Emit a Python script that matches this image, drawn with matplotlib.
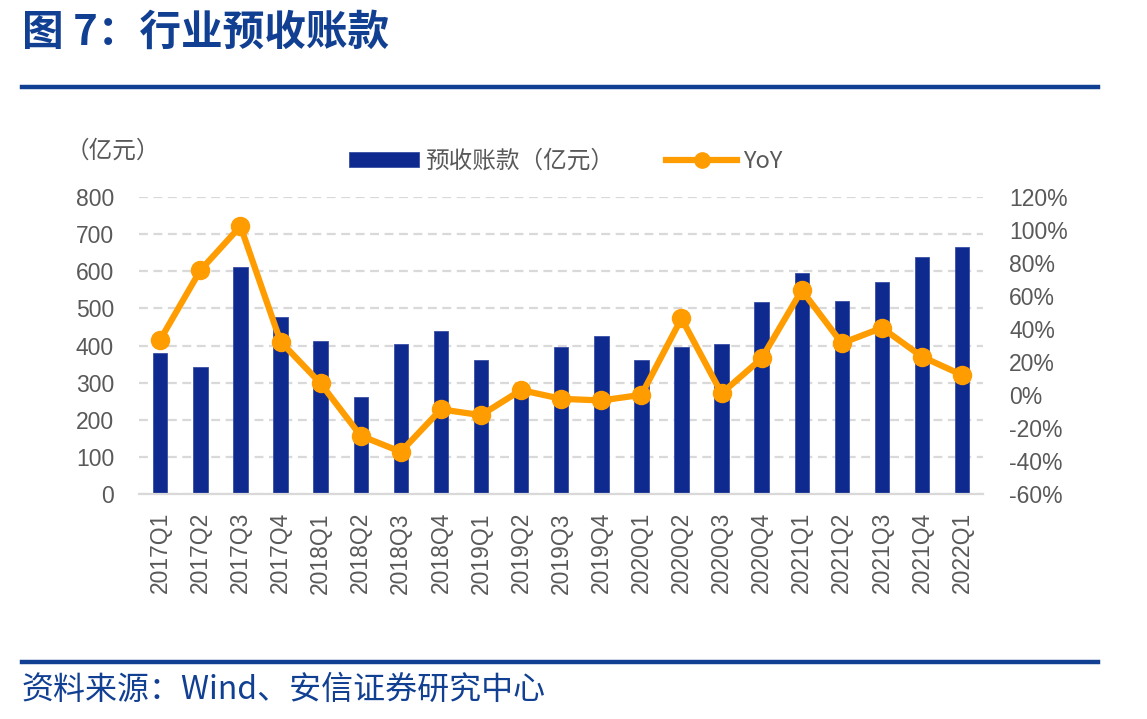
import numpy as np
import matplotlib
matplotlib.use("Agg")
import matplotlib.pyplot as plt
from matplotlib.lines import Line2D
from matplotlib.ticker import FuncFormatter

plt.rcParams['font.family'] = ['Liberation Sans', 'Noto Sans CJK SC', 'DejaVu Sans']

quarters = ['2017Q1', '2017Q2', '2017Q3', '2017Q4', '2018Q1', '2018Q2', '2018Q3', '2018Q4',
            '2019Q1', '2019Q2', '2019Q3', '2019Q4', '2020Q1', '2020Q2', '2020Q3', '2020Q4',
            '2021Q1', '2021Q2', '2021Q3', '2021Q4', '2022Q1']

# values
advance = [381, 343, 612, 478, 411, 260, 405, 438, 362, 272, 397, 425,
           362, 395, 403, 518, 596, 521, 570, 639, 666]
yoy = [0.336, 0.756, 1.023, 0.324, 0.070, -0.247, -0.344, -0.087, -0.122, 0.030, -0.023, -0.033,
       0.001, 0.464, 0.010, 0.222, 0.635, 0.314, 0.407, 0.232, 0.121]

cjk = ['Noto Sans CJK SC', 'DejaVu Sans']
bar_color = '#0f2a8f'
line_color = '#ff9c00'
text_gray = '#595959'
title_blue = '#113f92'

fig = plt.figure(figsize=(11.47, 7.19), dpi=100)
ax = fig.add_axes([0.1212, 0.3129, 0.7358, 0.4131])
x = np.arange(len(quarters))

ax.bar(x, advance, width=0.36, color=bar_color, edgecolor='#3a4fa8', linewidth=0.6,
       label='预收账款（亿元）', zorder=2)
ax.set_ylim(0, 800)
ax.set_yticks(np.arange(0, 801, 100))
ax.set_xlim(-0.53, len(quarters) - 0.48)
ax.set_xticks(x)
ax.set_xticklabels(quarters, rotation=90)
ax.grid(axis='y', color='#d9d9d9', linestyle=(0, (4, 2.5)), linewidth=1.6, zorder=0)
ax.set_axisbelow(True)
for s in ['top', 'left', 'right']:
    ax.spines[s].set_visible(False)
ax.spines['bottom'].set_color('#d9d9d9')
ax.spines['bottom'].set_linewidth(1.6)
ax.tick_params(axis='y', length=0, pad=18, labelsize=16.5, labelcolor=text_gray)
ax.tick_params(axis='x', length=0, pad=13, labelsize=16.5, labelcolor=text_gray)

ax2 = ax.twinx()
ax2.plot(x, yoy, color=line_color, linewidth=4.5, marker='o', markersize=13,
         label='YoY', zorder=3)
ax2.set_ylim(-0.6, 1.2)
ax2.set_yticks(np.arange(-0.6, 1.21, 0.2))
ax2.yaxis.set_major_formatter(FuncFormatter(lambda v, p: f'{v * 100:.0f}%'))
for s in ax2.spines.values():
    s.set_visible(False)
ax2.tick_params(axis='y', length=0, pad=19, labelsize=16.5, labelcolor=text_gray)

# legend
h1, l1 = ax.get_legend_handles_labels()
h2 = [Line2D([], [], color=line_color, linewidth=4.5, marker='o', markersize=11)]
leg = fig.legend(h1 + h2, l1 + ['YoY'], loc='center', bbox_to_anchor=(0.493, 0.776),
                 ncol=2, frameon=False, handlelength=3.0, handleheight=0.6,
                 columnspacing=2.2, handletextpad=0.25, prop={'family': cjk, 'size': 17})
for t in leg.get_texts():
    t.set_color(text_gray)

fig.text(0.057, 0.79, '（亿元）', family=cjk, fontsize=17, color=text_gray, va='center')

# title, rules and source
fig.text(0.019, 0.955, '图 7：行业预收账款', family=cjk, fontsize=30, fontweight='bold',
         color=title_blue, va='center')
fig.add_artist(Line2D([0.019, 0.957], [0.879, 0.879], color=title_blue, linewidth=3.2))
fig.add_artist(Line2D([0.019, 0.957], [0.079, 0.079], color=title_blue, linewidth=3.2))
fig.text(0.019, 0.041, '资料来源：Wind、安信证券研究中心', family=cjk, fontsize=23,
         color=title_blue, va='center', style='italic')

fig.savefig('out.png', dpi=100)
